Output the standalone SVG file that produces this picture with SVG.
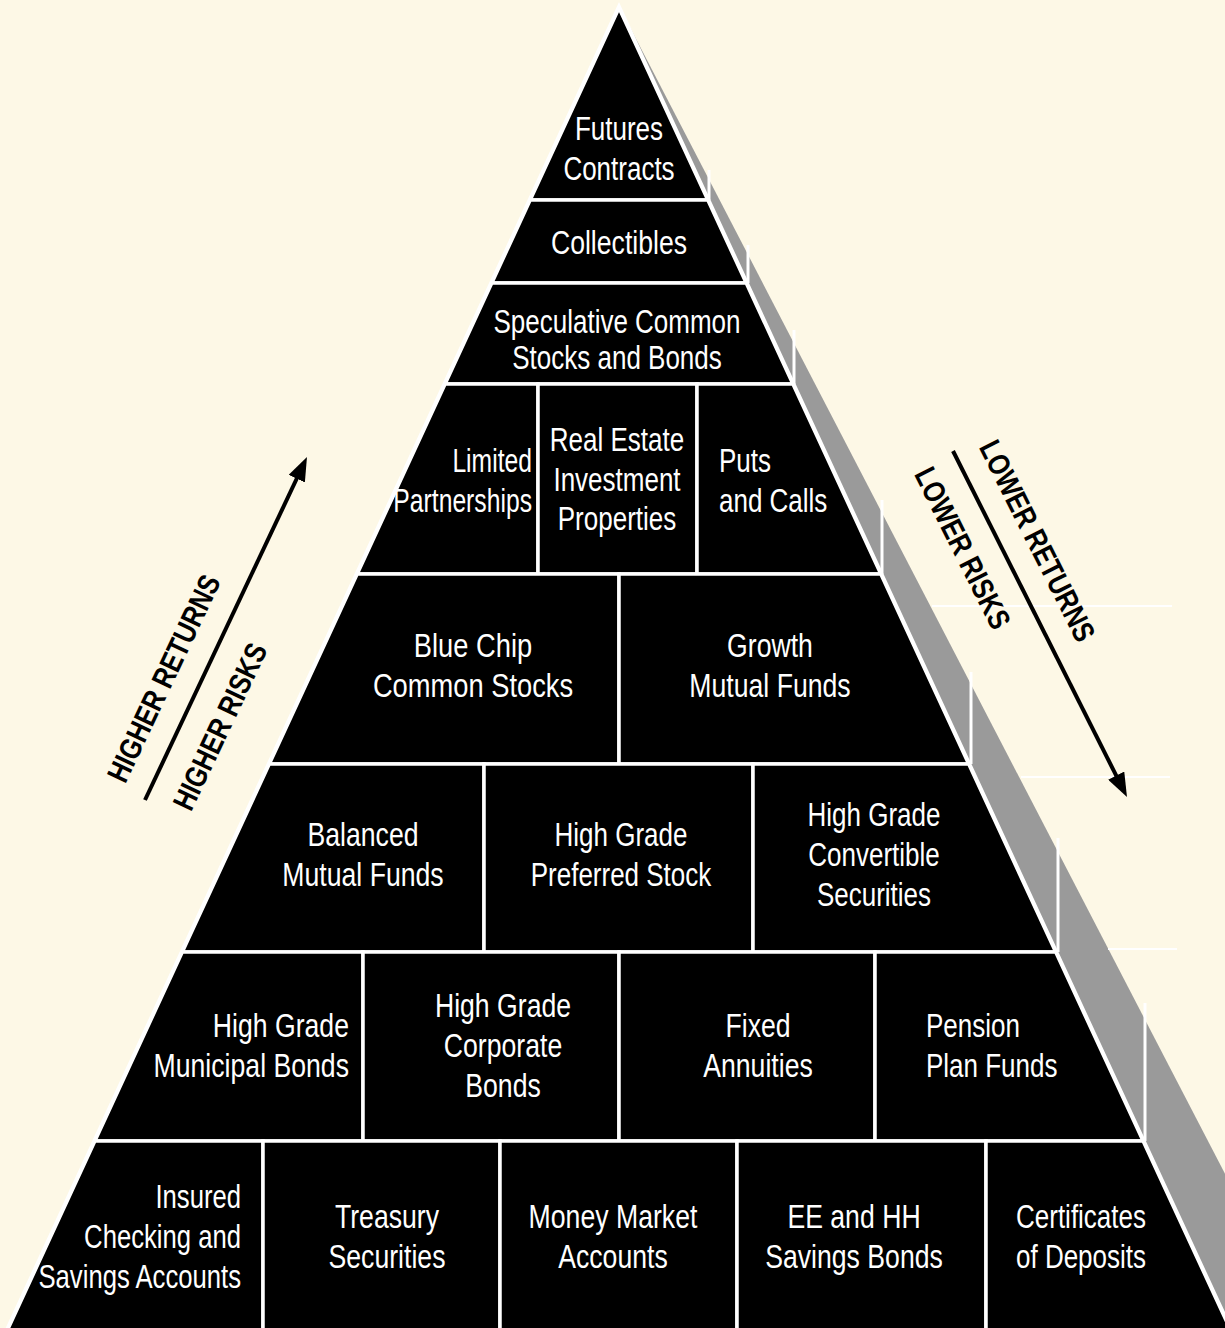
<svg xmlns="http://www.w3.org/2000/svg" width="1225" height="1328" viewBox="0 0 1225 1328">
<defs>
<style>
.bg{fill:#FDF8E6}
.cell{fill:#000;stroke:#fff;stroke-width:3.5;stroke-linejoin:miter}
.outline{fill:#000;stroke:#fff;stroke-width:5;stroke-linejoin:miter}
.shadow{fill:#9A9A9A}
.edge{stroke:#fff;stroke-width:3;fill:none}
.faint{stroke:#fff;stroke-width:2;fill:none}
.t{font-family:"Liberation Sans",Arial,sans-serif;font-size:32.5px;fill:#fff}
.lab{font-family:"Liberation Sans",Arial,sans-serif;font-size:30.5px;font-weight:bold;fill:#000}
.arrow{stroke:#000;stroke-width:4;fill:none;marker-end:url(#head)}
</style>
<marker id="head" viewBox="0 0 24 18" refX="14" refY="9" markerWidth="24" markerHeight="18" markerUnits="userSpaceOnUse" orient="auto">
<path d="M0,0 L24,9 L0,18 z" fill="#000"/>
</marker>
</defs>
<rect class="bg" x="0" y="0" width="1225" height="1328"/>

<g id="shadow">
<polygon class="shadow" points="620,8 1305,1328 1229,1328"/>
<line class="edge" x1="709" y1="170" x2="709" y2="200"/>
<line class="edge" x1="748" y1="245" x2="748" y2="283"/>
<line class="edge" x1="794" y1="330" x2="794" y2="384"/>
<line class="edge" x1="882" y1="500" x2="882" y2="574"/>
<line class="edge" x1="971" y1="672" x2="971" y2="764"/>
<line class="edge" x1="1058" y1="838" x2="1058" y2="952"/>
<line class="edge" x1="1145" y1="1003" x2="1145" y2="1141"/>
<line class="faint" x1="932" y1="606" x2="1172" y2="606"/>
<line class="faint" x1="1021" y1="777" x2="1170" y2="777"/>
<line class="faint" x1="1108" y1="949" x2="1177" y2="949"/>
</g>

<polygon class="outline" points="619,8 1229.6,1328 8.4,1328"/>

<g id="futures">
<polygon class="cell" points="619,8 707.8,200 530.2,200"/>
<text class="t" text-anchor="middle" transform="translate(619 0) scale(0.8 1)"><tspan x="0" y="140">Futures</tspan><tspan x="0" y="180">Contracts</tspan></text>
</g>
<g id="collectibles">
<polygon class="cell" points="530.2,200 707.8,200 746.2,283 491.8,283"/>
<text class="t" text-anchor="middle" transform="translate(619 0) scale(0.82 1)"><tspan x="0" y="254">Collectibles</tspan></text>
</g>
<g id="speculative">
<polygon class="cell" points="491.8,283 746.2,283 792.9,384 445.1,384"/>
<text class="t" text-anchor="middle" transform="translate(617 0) scale(0.8 1)"><tspan x="0" y="333">Speculative Common</tspan><tspan x="0" y="369">Stocks and Bonds</tspan></text>
</g>
<g id="limited">
<polygon class="cell" points="445.1,384 538,384 538,574 357.2,574"/>
<text class="t" text-anchor="end" transform="translate(532 0) scale(0.76 1)"><tspan x="0" y="472">Limited</tspan><tspan x="0" y="512">Partnerships</tspan></text>
</g>
<g id="realestate">
<polygon class="cell" points="538,384 697,384 697,574 538,574"/>
<text class="t" text-anchor="middle" transform="translate(617 0) scale(0.8 1)"><tspan x="0" y="451">Real Estate</tspan><tspan x="0" y="491">Investment</tspan><tspan x="0" y="530">Properties</tspan></text>
</g>
<g id="puts">
<polygon class="cell" points="697,384 792.9,384 880.8,574 697,574"/>
<text class="t" text-anchor="start" transform="translate(719 0) scale(0.8 1)"><tspan x="0" y="472">Puts</tspan><tspan x="0" y="512">and Calls</tspan></text>
</g>
<g id="bluechip">
<polygon class="cell" points="357.2,574 619,574 619,764 269.3,764"/>
<text class="t" text-anchor="middle" transform="translate(473 0) scale(0.84 1)"><tspan x="0" y="657">Blue Chip</tspan><tspan x="0" y="697">Common Stocks</tspan></text>
</g>
<g id="growth">
<polygon class="cell" points="619,574 880.8,574 968.7,764 619,764"/>
<text class="t" text-anchor="middle" transform="translate(770 0) scale(0.82 1)"><tspan x="0" y="657">Growth</tspan><tspan x="0" y="697">Mutual Funds</tspan></text>
</g>
<g id="balanced">
<polygon class="cell" points="269.3,764 484,764 484,952 182.3,952"/>
<text class="t" text-anchor="middle" transform="translate(363 0) scale(0.82 1)"><tspan x="0" y="846">Balanced</tspan><tspan x="0" y="886">Mutual Funds</tspan></text>
</g>
<g id="preferred">
<polygon class="cell" points="484,764 753,764 753,952 484,952"/>
<text class="t" text-anchor="middle" transform="translate(621 0) scale(0.8 1)"><tspan x="0" y="846">High Grade</tspan><tspan x="0" y="886">Preferred Stock</tspan></text>
</g>
<g id="convertible">
<polygon class="cell" points="753,764 968.7,764 1055.7,952 753,952"/>
<text class="t" text-anchor="middle" transform="translate(874 0) scale(0.8 1)"><tspan x="0" y="826">High Grade</tspan><tspan x="0" y="866">Convertible</tspan><tspan x="0" y="906">Securities</tspan></text>
</g>
<g id="municipal">
<polygon class="cell" points="182.3,952 363,952 363,1141 94.9,1141"/>
<text class="t" text-anchor="end" transform="translate(349 0) scale(0.82 1)"><tspan x="0" y="1037">High Grade</tspan><tspan x="0" y="1077">Municipal Bonds</tspan></text>
</g>
<g id="corporate">
<polygon class="cell" points="363,952 619,952 619,1141 363,1141"/>
<text class="t" text-anchor="middle" transform="translate(503 0) scale(0.82 1)"><tspan x="0" y="1017">High Grade</tspan><tspan x="0" y="1057">Corporate</tspan><tspan x="0" y="1097">Bonds</tspan></text>
</g>
<g id="fixed">
<polygon class="cell" points="619,952 875,952 875,1141 619,1141"/>
<text class="t" text-anchor="middle" transform="translate(758 0) scale(0.82 1)"><tspan x="0" y="1037">Fixed</tspan><tspan x="0" y="1077">Annuities</tspan></text>
</g>
<g id="pension">
<polygon class="cell" points="875,952 1055.7,952 1143.1,1141 875,1141"/>
<text class="t" text-anchor="start" transform="translate(926 0) scale(0.8 1)"><tspan x="0" y="1037">Pension</tspan><tspan x="0" y="1077">Plan Funds</tspan></text>
</g>
<g id="insured">
<polygon class="cell" points="94.9,1141 263,1141 263,1330 7.5,1330"/>
<text class="t" text-anchor="end" transform="translate(241 0) scale(0.79 1)"><tspan x="0" y="1208">Insured</tspan><tspan x="0" y="1248">Checking and</tspan><tspan x="0" y="1288">Savings Accounts</tspan></text>
</g>
<g id="treasury">
<polygon class="cell" points="263,1141 500,1141 500,1330 263,1330"/>
<text class="t" text-anchor="middle" transform="translate(387 0) scale(0.82 1)"><tspan x="0" y="1228">Treasury</tspan><tspan x="0" y="1268">Securities</tspan></text>
</g>
<g id="moneymarket">
<polygon class="cell" points="500,1141 737,1141 737,1330 500,1330"/>
<text class="t" text-anchor="middle" transform="translate(613 0) scale(0.82 1)"><tspan x="0" y="1228">Money Market</tspan><tspan x="0" y="1268">Accounts</tspan></text>
</g>
<g id="savingsbonds">
<polygon class="cell" points="737,1141 986,1141 986,1330 737,1330"/>
<text class="t" text-anchor="middle" transform="translate(854 0) scale(0.82 1)"><tspan x="0" y="1228">EE and HH</tspan><tspan x="0" y="1268">Savings Bonds</tspan></text>
</g>
<g id="certificates">
<polygon class="cell" points="986,1141 1143.1,1141 1230.5,1330 986,1330"/>
<text class="t" text-anchor="middle" transform="translate(1081 0) scale(0.8 1)"><tspan x="0" y="1228">Certificates</tspan><tspan x="0" y="1268">of Deposits</tspan></text>
</g>

<g id="connectors">
<line class="arrow" x1="145" y1="800" x2="302.7" y2="466"/>
<line class="arrow" x1="953" y1="451" x2="1122.5" y2="788.1"/>
</g>

<g id="labels">
<text class="lab" text-anchor="middle" transform="translate(173.3 682.8) rotate(-64.7) scale(0.82 1)">HIGHER RETURNS</text>
<text class="lab" text-anchor="middle" transform="translate(229.5 731) rotate(-64.7) scale(0.82 1)">HIGHER RISKS</text>
<text class="lab" text-anchor="middle" transform="translate(1028 545.6) rotate(63.3) scale(0.82 1)">LOWER RETURNS</text>
<text class="lab" text-anchor="middle" transform="translate(953.3 552.9) rotate(63.3) scale(0.82 1)">LOWER RISKS</text>
</g>
</svg>
